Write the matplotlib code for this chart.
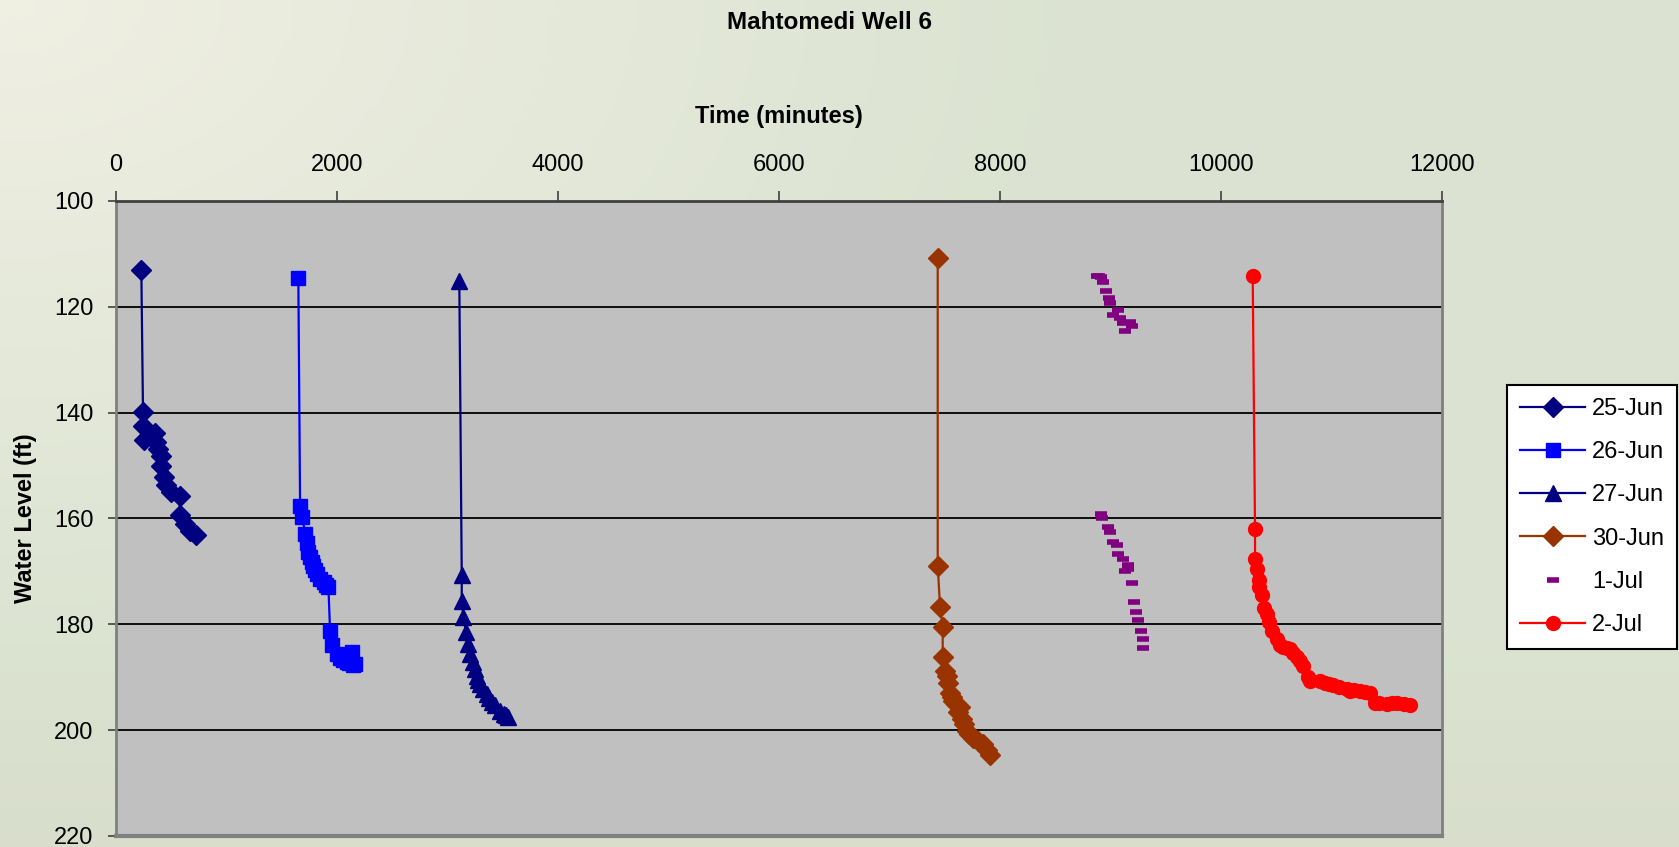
"""Drawdown curves for Mahtomedi Well 6, one series per pumping day."""
import matplotlib

matplotlib.use("Agg")
import matplotlib.pyplot as plt
import numpy as np

plt.rcParams.update({
    "font.family": ["Liberation Sans", "DejaVu Sans"],
    "font.size": 17,
})

# time since start of record (minutes) and water level below datum (ft)
t_25jun = [232, 247, 247, 256, 353, 368, 383, 413, 413, 434, 458, 503, 579, 579, 624, 669, 730]
w_25jun = [113.0, 139.8, 142.5, 145.2, 143.9, 145.5, 146.8, 148.1, 150.1, 152.2, 153.7,
           155.0, 155.8, 159.4, 161.0, 162.3, 163.2]

t_26jun = [1652, 1668, 1689, 1713, 1728, 1743, 1758, 1773, 1788, 1803, 1820, 1849, 1880,
           1900, 1924, 1939, 1954, 2000, 2030, 2060, 2090, 2110, 2135, 2150, 2165]
w_26jun = [114.5, 157.6, 159.7, 162.9, 164.7, 166.3, 167.2, 168.2, 169.0, 169.8, 170.5,
           171.4, 172.0, 172.5, 172.9, 181.2, 184.0, 185.6, 186.3, 186.8, 187.2, 187.4,
           185.3, 187.6, 187.5]

t_27jun = [3108, 3130, 3130, 3145, 3169, 3190, 3205, 3230, 3250, 3266, 3280, 3296, 3320,
           3356, 3380, 3401, 3430, 3476, 3510, 3530, 3552]
w_27jun = [115.2, 170.7, 175.5, 178.6, 181.5, 183.7, 185.6, 187.2, 188.5, 189.7, 190.5,
           191.3, 192.2, 193.2, 194.0, 194.7, 195.3, 196.3, 196.9, 197.2, 197.6]

t_30jun = [7435, 7435, 7456, 7480, 7480, 7501, 7515, 7531, 7546, 7561, 7576, 7600, 7620,
           7637, 7652, 7670, 7697, 7720, 7757, 7800, 7848, 7880, 7908]
w_30jun = [110.7, 168.9, 176.7, 180.5, 186.2, 188.8, 189.8, 191.0, 192.9, 193.7, 194.5,
           195.0, 196.5, 195.7, 197.9, 198.8, 200.1, 200.8, 201.4, 202.0, 202.7, 203.8, 204.7]

t_01jul = [8880, 8897, 8910, 8933, 8957, 8987, 8993, 9023, 9063, 9084, 9114, 9129, 9174,
           9190, 8909, 8918, 8978, 8993, 9023, 9059, 9069, 9114, 9129, 9159, 9159, 9190,
           9210, 9228, 9249, 9270, 9294, 9294]
w_01jul = [114.1, 114.1, 114.3, 115.3, 117.0, 118.4, 119.2, 121.6, 120.6, 122.2, 123.1,
           124.5, 122.8, 123.7, 159.1, 160.0, 161.6, 162.5, 164.4, 165.1, 166.8, 167.6,
           170.0, 168.7, 169.5, 172.2, 175.7, 177.7, 179.1, 181.3, 182.7, 184.4]

t_02jul = [10284, 10305, 10305, 10326, 10344, 10344, 10366, 10386, 10411, 10434, 10456,
           10501, 10531, 10560, 10590, 10622, 10650, 10682, 10713, 10742, 10787, 10803,
           10893, 10940, 10970, 11013, 11060, 11134, 11165, 11200, 11255, 11300, 11346,
           11391, 11430, 11496, 11540, 11586, 11650, 11706]
w_02jul = [114.1, 162.0, 167.7, 169.5, 171.7, 172.9, 174.4, 176.9, 178.0, 179.6, 181.2,
           182.7, 184.0, 184.3, 184.5, 184.6, 185.5, 186.2, 187.0, 187.8, 190.0, 190.8,
           190.7, 191.0, 191.2, 191.5, 191.8, 192.2, 192.6, 192.5, 192.6, 192.7, 192.9,
           194.8, 194.9, 195.1, 194.9, 194.8, 195.0, 195.3]

SERIES = [
    ("25-Jun", t_25jun, w_25jun, "#000080", "D", 10),
    ("26-Jun", t_26jun, w_26jun, "#0000FF", "s", 9.5),
    ("27-Jun", t_27jun, w_27jun, "#000080", "^", 11),
    ("30-Jun", t_30jun, w_30jun, "#993300", "D", 10),
    ("1-Jul", t_01jul, w_01jul, "#800080", "_", 8.5),
    ("2-Jul", t_02jul, w_02jul, "#FF0000", "o", 10),
]

fig = plt.figure(figsize=(16.79, 8.47), dpi=100)

# soft paper-like backdrop
bg = fig.add_axes([0, 0, 1, 1], zorder=-10)
yy, xx = np.mgrid[0:1:200j, 0:1:400j]
light = np.array([0.94, 0.94, 0.89])
green = np.array([0.86, 0.89, 0.82])
dark = np.array([0.83, 0.84, 0.76])
w_light = np.clip(1.0 - 1.6 * np.hypot(xx, yy * 0.8), 0, 1)[..., None]
w_dark = np.clip((yy - 0.75) * 2.5, 0, 1)[..., None] * 0.6
img = green * (1 - w_light) + light * w_light
img = img * (1 - w_dark) + dark * w_dark
bg.imshow(img, aspect="auto", extent=[0, 1, 1, 0])
bg.axis("off")

ax = fig.add_axes([0.0689, 0.0130, 0.7902, 0.7497])
ax.set_facecolor("#C0C0C0")

for label, t, w, color, marker, ms in SERIES:
    if marker == "_":
        ax.plot(t, w, ls="none", marker=marker, ms=ms, mew=4, color=color, label=label)
    else:
        ax.plot(t, w, color=color, lw=1.6, marker=marker, ms=ms, mec=color, mfc=color,
                label=label)

ax.set_xlim(0, 12000)
ax.set_ylim(220, 100)
ax.set_xticks(np.arange(0, 12001, 2000))
ax.set_yticks(np.arange(100, 221, 20))
ax.xaxis.tick_top()
ax.xaxis.set_label_position("top")
ax.tick_params(axis="x", direction="out", length=7, width=1.2, pad=11, color="#404040")
ax.tick_params(axis="y", direction="out", length=6, width=1.2, pad=10, color="#404040")
ax.yaxis.grid(True, color="black", lw=1.3)
ax.set_axisbelow(True)

for side, spine in ax.spines.items():
    spine.set_color("#808080")
    spine.set_linewidth(2)
ax.spines["top"].set_color("#404040")
ax.spines["bottom"].set_linewidth(3)

ax.set_xlabel("Time (minutes)", fontweight="bold", labelpad=22)
ax.set_ylabel("Water Level (ft)", fontweight="bold", labelpad=12)
fig.text(0.494, 0.973, "Mahtomedi Well 6", ha="center", va="center",
         fontweight="bold", fontsize=17.5)

leg = fig.legend(loc="upper left", bbox_to_anchor=(0.8976, 0.5455), numpoints=1,
                 fancybox=False, framealpha=1, edgecolor="black", fontsize=17,
                 handlelength=2.75, handletextpad=0.3, labelspacing=0.9,
                 borderpad=0.55, borderaxespad=0)
leg.get_frame().set_linewidth(1.5)

fig.savefig("out.png", dpi=100)
